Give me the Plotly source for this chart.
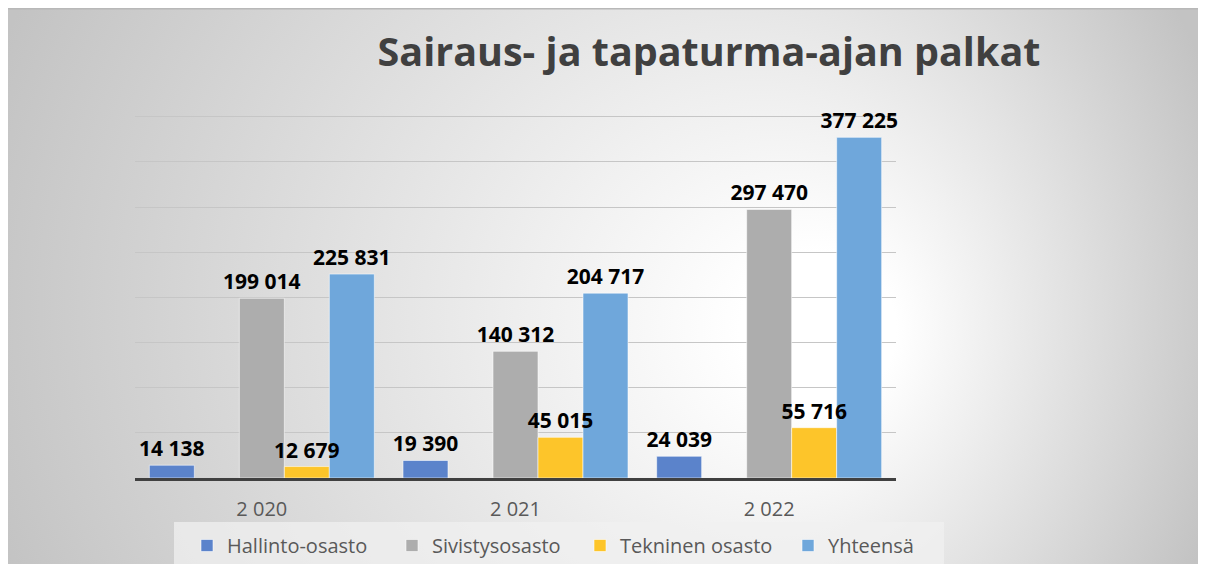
import base64
import plotly.graph_objects as go

# Datos del gráfico (euros por año)
years = ["2 020", "2 021", "2 022"]
hallinto = [14138, 19390, 24039]
sivistys = [199014, 140312, 297470]
tekninen = [12679, 45015, 55716]
yhteensa = [225831, 204717, 377225]

series_names = ["Hallinto-osasto", "Sivistysosasto", "Tekninen osasto", "Yhteensä"]
series_colors = ["#5B83CB", "#ADADAD", "#FDC52A", "#6FA7DB"]
legend_widths = [160, 143, 163, 118]

# la página html tiene 8px de margen en body, por eso 1198x556
W, H = 1198, 556
L, R, T, B = 127, 310, 107, 86
plot_w = W - L - R
plot_h = H - T - B


def fmt(v):
    return f"{v:,}".replace(",", " ")


def background_svg():
    # fondo degradado radial, como en el gráfico de Excel
    w, h = W + 10, H + 10
    svg = f'''<svg xmlns="http://www.w3.org/2000/svg" width="{w}" height="{h}" viewBox="0 0 {w} {h}">
<defs><radialGradient id="g" gradientUnits="userSpaceOnUse" cx="590" cy="296" r="650" fx="840" fy="326">
<stop offset="0" stop-color="#ffffff"/><stop offset="0.12" stop-color="#ffffff"/>
<stop offset="1" stop-color="#c3c3c3"/></radialGradient></defs>
<rect x="0" y="0" width="{w}" height="{h}" fill="url(#g)"/>
<line x1="0" y1="0.75" x2="{w}" y2="0.75" stroke="#b8b8b8" stroke-width="1.5"/>
</svg>'''
    return "data:image/svg+xml;base64," + base64.b64encode(svg.encode()).decode()


fig = go.Figure()

all_values = [hallinto, sivistys, tekninen, yhteensa]
groups = ["g0", "g2", "g3", "g4"]
for i, (name, vals) in enumerate(zip(series_names, all_values)):
    fig.add_trace(go.Bar(
        x=years, y=vals, name=name, offsetgroup=groups[i],
        marker=dict(color=series_colors[i], line=dict(color="rgba(255,255,255,0.55)", width=1)),
        legendwidth=legend_widths[i], hoverinfo="x+y+name",
    ))
    if i == 0:
        # serie vacía: deja el hueco entre Hallinto-osasto y Sivistysosasto
        fig.add_trace(go.Bar(x=years, y=[0, 0, 0], showlegend=False, hoverinfo="skip",
                             offsetgroup="g1",
                             marker=dict(color="rgba(0,0,0,0)", line=dict(width=0))))

# etiquetas encima de todas las barras (trazas transparentes en el mismo grupo)
for i, vals in enumerate(all_values):
    fig.add_trace(go.Bar(
        x=years, y=vals, offsetgroup=groups[i], showlegend=False, hoverinfo="skip",
        marker=dict(color="rgba(0,0,0,0)", line=dict(width=0)),
        text=[fmt(v) for v in vals], textposition="outside", constraintext="none",
        textfont=dict(family="Open Sans", size=21, color="#000000", weight="bold"),
        cliponaxis=False,
    ))

fig.add_layout_image(dict(
    source=background_svg(), xref="paper", yref="paper",
    x=-L / plot_w, y=(H - B) / plot_h,
    sizex=(W + 10) / plot_w, sizey=(H + 10) / plot_h,
    xanchor="left", yanchor="top", sizing="stretch", layer="below",
))

# caja de la leyenda
fig.add_shape(type="rect", xref="paper", yref="paper", layer="below",
              x0=(166 - L) / plot_w, x1=(936 - L) / plot_w,
              y0=(H - B - 514) / plot_h, y1=(H - B - H - 10) / plot_h,
              fillcolor="rgba(240,240,240,0.75)", line=dict(width=0))

fig.update_layout(
    width=W, height=H,
    margin=dict(l=L, r=R, t=T, b=B, autoexpand=False),
    paper_bgcolor="white", plot_bgcolor="rgba(0,0,0,0)",
    barmode="group", bargap=0.113, bargroupgap=0,
    title=dict(text="Sairaus- ja tapaturma-ajan palkat", x=701 / W, y=1 - 44 / H,
               xanchor="center", yanchor="middle",
               font=dict(family="Open Sans", size=39.5, color="#404040", weight="bold")),
    font=dict(family="Open Sans", color="#595959"),
    legend=dict(orientation="h", x=(179 - L) / plot_w, y=(H - B - 518) / plot_h,
                xanchor="left", yanchor="top", bgcolor="rgba(0,0,0,0)",
                font=dict(family="Open Sans", size=20, color="#595959")),
    showlegend=True,
)

fig.update_xaxes(showline=True, linecolor="#404040", linewidth=3, showgrid=False,
                 ticks="outside", ticklen=11, tickcolor="rgba(0,0,0,0)",
                 tickfont=dict(family="Open Sans", size=20, color="#595959"))
fig.update_yaxes(range=[0, 402000], tickvals=[50000 * k for k in range(1, 9)],
                 showticklabels=False, zeroline=False,
                 showgrid=True, gridcolor="#C6C6C6", gridwidth=1.2)

fig.write_html("out.html")
